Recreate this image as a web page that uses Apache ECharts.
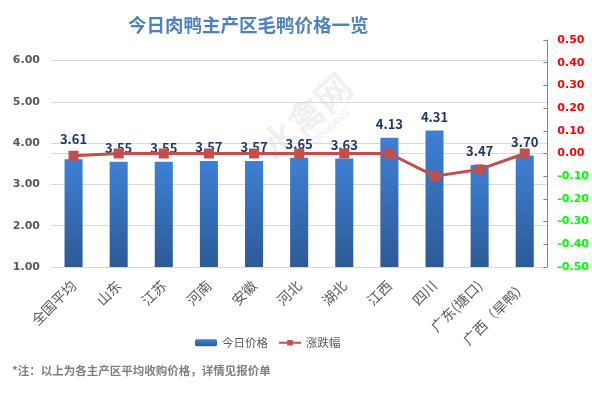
<!DOCTYPE html>
<html><head><meta charset="utf-8">
<script src="https://cdn.jsdelivr.net/npm/echarts@6/dist/echarts.min.js"></script>
<style>html,body{margin:0;padding:0;background:#fff}#c{width:592px;height:393px}</style>
</head><body><div id="c"></div>
<script>
var categories = ['全国平均','山东','江苏','河南','安徽','河北','湖北','江西','四川','广东(塘口)','广西（旱鸭）'];
var prices = [3.61, 3.55, 3.55, 3.57, 3.57, 3.65, 3.63, 4.13, 4.31, 3.47, 3.70];
var changes = [-0.01, 0.00, 0.00, 0.00, 0.00, 0.00, 0.00, 0.00, -0.10, -0.07, 0.00];
var titleText = '今日肉鸭主产区毛鸭价格一览';
var noteText = '*注：以上为各主产区平均收购价格，详情见报价单';
var seriesNames = ['今日价格', '涨跌幅'];

var FONT = '"Noto Sans CJK SC", "Noto Sans", sans-serif';
var chart = echarts.init(document.getElementById('c'), null, {renderer: 'canvas'});

var barData = prices.map(function (v, i) {
  var item = {value: v};
  if (i === 0) item.label = {offset: [0, -7]};
  return item;
});

chart.setOption({
  animation: false,
  backgroundColor: '#fff',
  title: {
    text: titleText, left: 123, top: 11,
    textStyle: {fontFamily: FONT, fontSize: 18.5, fontWeight: 'bold', color: '#4F81BD'}
  },
  graphic: [
    {type: 'text', left: 12, top: 365, style: {text: noteText, font: 'bold 11.5px ' + FONT, fill: '#7F7F7F'}},
    {type: 'text', x: 306, y: 116, rotation: 0.72, z: 0,
      style: {text: '水禽网', font: 'bold 36px ' + FONT, fill: 'rgba(170,170,170,0.18)', textAlign: 'center', textVerticalAlign: 'middle'}},
    {type: 'text', x: 322, y: 134, rotation: 0.72, z: 0,
      style: {text: 'SHUIQINWANG', font: '10px ' + FONT, fill: 'rgba(170,170,170,0.25)', textAlign: 'center', textVerticalAlign: 'middle'}}
  ],
  legend: {
    data: [seriesNames[0], seriesNames[1]],
    left: 190, top: 332, itemGap: 10, itemWidth: 22, itemHeight: 7,
    textStyle: {fontFamily: FONT, fontSize: 11.5, color: '#595959'}
  },
  grid: {left: 51, right: 43, top: 40, bottom: 126, containLabel: false},
  xAxis: {
    type: 'category', data: categories,
    axisLine: {lineStyle: {color: '#D9D9D9'}},
    axisTick: {show: false},
    axisLabel: {rotate: 45, margin: 16, interval: 0, fontFamily: FONT, fontSize: 14, color: '#595959'}
  },
  yAxis: [
    {
      type: 'value', min: 1, max: 6.5, interval: 1,
      axisLine: {show: false}, axisTick: {show: false},
      splitLine: {show: true, showMaxLine: false, lineStyle: {color: '#D9D9D9'}},
      axisLabel: {showMaxLabel: false, margin: 11, fontFamily: '"DejaVu Sans", sans-serif', fontWeight: 'bold', fontSize: 11, color: '#595959',
        formatter: function (v) { return v.toFixed(2); }}
    },
    {
      type: 'value', min: -0.5, max: 0.5, interval: 0.1, position: 'right',
      axisLine: {show: true, lineStyle: {color: '#868686'}},
      axisTick: {show: true, inside: true, length: 4, lineStyle: {color: '#868686'}},
      splitLine: {show: false},
      axisLabel: {margin: 10, fontFamily: '"DejaVu Sans", sans-serif', fontWeight: 'bold', fontSize: 11,
        formatter: function (v) { return (Math.round(v * 100) / 100).toFixed(2); },
        color: function (v) { return Number(v) < -1e-9 ? '#00FF00' : '#FF0000'; }}
    }
  ],
  series: [
    {
      name: seriesNames[0], type: 'bar', yAxisIndex: 0, data: barData, barWidth: '40%',
      itemStyle: {color: new echarts.graphic.LinearGradient(0, 0, 0, 1, [
        {offset: 0, color: '#3E80D4'}, {offset: 1, color: '#2C5A96'}])},
      label: {show: true, position: 'top', distance: 7, fontFamily: FONT, fontSize: 13, fontWeight: 'bold', color: '#1F3864',
        formatter: function (p) { return p.value.toFixed(2); }},
      z: 2
    },
    {
      name: seriesNames[1], type: 'line', yAxisIndex: 1, data: changes,
      symbol: 'rect', symbolSize: 10,
      lineStyle: {color: '#C0504D', width: 3},
      itemStyle: {color: '#C0504D'},
      z: 3
    }
  ]
});
</script></body></html>
